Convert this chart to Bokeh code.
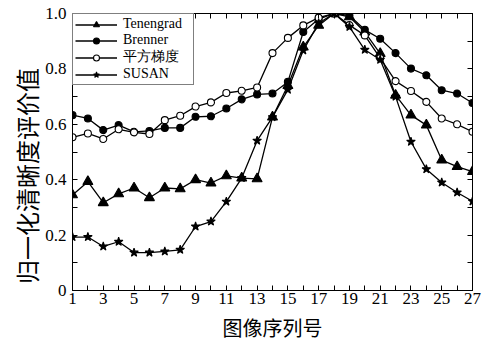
from bokeh.plotting import figure
from bokeh.models import (FixedTicker, LinearAxis, Legend, LegendItem,
                          CustomJSTickFormatter)
from bokeh.embed import file_html
from bokeh.resources import INLINE

# ---------------- data ----------------
frames = list(range(1, 28))

tenengrad = [0.345, 0.393, 0.317, 0.349, 0.370, 0.335, 0.370, 0.367, 0.400, 0.388,
             0.414, 0.406, 0.403, 0.626, 0.740, 0.879, 0.957, 1.000, 0.988, 0.933,
             0.855, 0.705, 0.633, 0.597, 0.471, 0.447, 0.429]
brenner = [0.633, 0.621, 0.579, 0.597, 0.573, 0.576, 0.587, 0.587, 0.627, 0.629,
           0.657, 0.690, 0.708, 0.711, 0.753, 0.933, 0.980, 1.000, 0.993, 0.941,
           0.909, 0.857, 0.801, 0.777, 0.723, 0.711, 0.677]
gradient_sq = [0.553, 0.567, 0.547, 0.582, 0.571, 0.565, 0.615, 0.631, 0.664, 0.679,
               0.713, 0.721, 0.733, 0.857, 0.912, 0.957, 0.985, 1.000, 0.958, 0.921,
               0.839, 0.756, 0.720, 0.681, 0.621, 0.600, 0.573]
susan = [0.193, 0.193, 0.159, 0.176, 0.137, 0.137, 0.141, 0.147, 0.231, 0.249,
         0.321, 0.406, 0.541, 0.626, 0.725, 0.867, 0.965, 1.000, 0.952, 0.869,
         0.833, 0.700, 0.537, 0.438, 0.390, 0.354, 0.322]

series_names = ["Tenengrad", "Brenner", "平方梯度", "SUSAN"]

x_major = [1, 3, 5, 7, 9, 11, 13, 15, 17, 19, 21, 23, 25, 27]
x_minor = [2, 4, 6, 8, 10, 12, 14, 16, 18, 20, 22, 24, 26]
y_major = [0, 0.2, 0.4, 0.6, 0.8, 1.0]
y_minor = [0.1, 0.3, 0.5, 0.7, 0.9]

x_title = "图像序列号"
y_title = "归一化清晰度评价值"

# ---------------- figure ----------------
SERIF = "Liberation Serif"
CJK = "Noto Sans CJK SC"

p = figure(width=486, height=344, x_range=(1, 27), y_range=(0, 1.0),
           output_backend="svg", toolbar_location=None,
           min_border_left=72, min_border_right=14, min_border_top=13,
           min_border_bottom=53)
p.grid.visible = False
p.outline_line_color = "black"
p.outline_line_width = 1
p.background_fill_color = "white"
p.border_fill_color = "white"

xt = FixedTicker(ticks=x_major, minor_ticks=x_minor)
yt = FixedTicker(ticks=y_major, minor_ticks=y_minor)
yfmt = CustomJSTickFormatter(code="return tick == 0 ? '0' : tick.toFixed(1);")
blank = CustomJSTickFormatter(code="return '';")


def style_axis(ax, show_labels):
    ax.axis_line_color = "black"
    ax.major_tick_line_color = "black"
    ax.minor_tick_line_color = "black"
    ax.major_tick_in = 5
    ax.major_tick_out = 0
    ax.minor_tick_in = 5
    ax.minor_tick_out = 0
    if show_labels:
        ax.major_label_text_font = SERIF
        ax.major_label_text_font_size = "17px"
        ax.major_label_text_color = "black"
    else:
        ax.formatter = blank
        ax.major_label_text_font_size = "1px"
        ax.major_label_standoff = 0


xa = p.xaxis[0]
xa.ticker = xt
style_axis(xa, True)
xa.major_label_standoff = 2
xa.axis_label = x_title
xa.axis_label_text_font = CJK
xa.axis_label_text_font_size = "20px"
xa.axis_label_text_font_style = "normal"
xa.axis_label_text_color = "black"
xa.axis_label_standoff = 6

ya = p.yaxis[0]
ya.ticker = yt
ya.formatter = yfmt
style_axis(ya, True)
ya.major_label_standoff = 6
# two ideographic spaces at the end push the visible glyphs down a little,
# as in the reference where the title sits below the frame's centre
ya.axis_label = y_title + "\u3000\u3000"
ya.axis_label_text_font = CJK
ya.axis_label_text_font_size = "24px"
ya.axis_label_text_font_style = "normal"
ya.axis_label_text_color = "black"
ya.axis_label_standoff = -2

top = LinearAxis(ticker=xt)
style_axis(top, False)
p.add_layout(top, "above")
right = LinearAxis(ticker=yt)
style_axis(right, False)
p.add_layout(right, "right")

# ---------------- series ----------------
specs = [
    (tenengrad, "triangle", 10, "black"),
    (brenner, "circle", 7, "black"),
    (gradient_sq, "circle", 7, "white"),
    (susan, "star", 9, "black"),
]

items = []
for name, (vals, marker, size, fill) in zip(series_names, specs):
    lr = p.line(frames, vals, line_color="black", line_width=1.3)
    sr = p.scatter(frames, vals, marker=marker, size=size, line_color="black",
                   fill_color=fill, line_width=1.1)
    items.append(LegendItem(label=name, renderers=[lr, sr]))

legend = Legend(items=items, location="top_left", margin=0, padding=2,
                spacing=0, label_height=15, glyph_height=15, glyph_width=42,
                label_standoff=6, label_width=68, label_text_font=SERIF,
                label_text_font_size="14px", label_text_color="black",
                border_line_color="black", border_line_width=1,
                background_fill_color="white", background_fill_alpha=1.0)
p.add_layout(legend, "center")

open("out.html", "w").write(file_html(p, INLINE))
